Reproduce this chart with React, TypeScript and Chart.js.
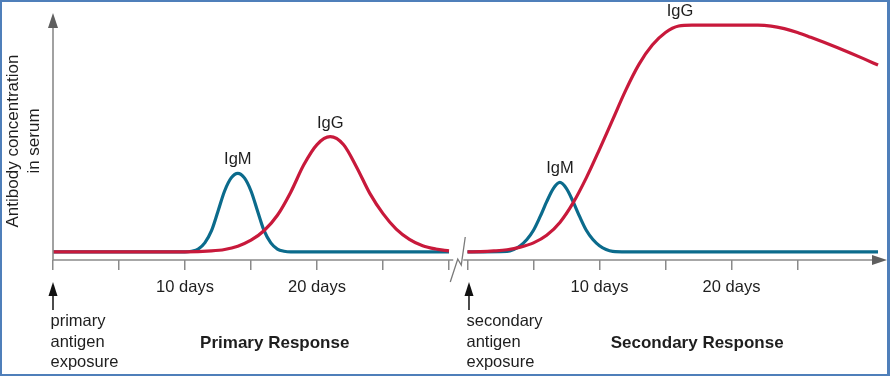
import React, { useEffect, useRef } from 'react';
import { Chart, registerables } from 'chart.js';

Chart.register(...registerables);

const FONT = '"Liberation Sans", Arial, Helvetica, sans-serif';
const BLUE = '#0b6b8c';
const RED = '#c8193b';
const AXIS = '#8a8a8a';
const ARROW = '#5f5f5f';
const FRAME = '#4f7fba';
const TEXT = '#1e1e1e';

// x axis: days since exposure; the secondary response starts after a break
const SECONDARY_OFFSET = 31.4;
const X_MAX = 63.18;

// Primary response (days since primary antigen exposure)
const primaryIgMDays = [0, 10, 10.5, 11, 11.5, 12, 12.5, 13, 13.5, 14, 14.5, 15, 15.5, 16, 16.5, 17, 17.5, 18, 30];
const primaryIgMValues = [3.4, 3.4, 3.7, 4.6, 7.2, 12.2, 20.5, 29, 34.5, 36.4, 34.5, 29, 20.5, 12.2, 7.2, 4.6, 3.7, 3.4, 3.4];

const primaryIgGDays = [0, 10, 12, 13, 14, 15, 16, 17, 18, 19, 20, 21, 22, 23, 24, 25, 26, 27, 28, 29, 30];
const primaryIgGValues = [3.4, 3.4, 3.8, 4.4, 5.8, 8.3, 12.4, 18.8, 28.4, 40, 48.5, 51.8, 48.5, 39, 28, 19.5, 13, 8.7, 6, 4.6, 3.8];

// Secondary response (days since secondary antigen exposure)
const secondaryIgMDays = [0, 3, 3.5, 4, 4.5, 5, 5.5, 6, 6.5, 7, 7.5, 8, 8.5, 9, 9.5, 10, 10.5, 11, 12, 31.1];
const secondaryIgMValues = [3.4, 3.6, 4.4, 6.0, 8.6, 12.5, 18.2, 24.5, 30, 32.6, 30, 24.5, 18.2, 12.5, 8.6, 6.0, 4.4, 3.6, 3.4, 3.4];

const secondaryIgGDays = [0, 1, 2, 3, 4, 5, 6, 7, 8, 9, 10, 11, 12, 13, 14, 15, 16, 17, 22, 23, 24, 25, 26, 27, 28, 29, 30, 31.1];
const secondaryIgGValues = [3.4, 3.5, 3.8, 4.3, 5.4, 7.2, 10.4, 15.8, 24, 34.5, 46.5, 59, 71.5, 82.3, 90.3, 95.6, 98.3, 98.7, 98.7, 98.3, 97.2, 95.6, 93.6, 91.5, 89.3, 87, 84.6, 81.9];

// Tick marks and labels
const primaryTickDays = [0, 5, 10, 15, 20, 25, 30];
const primaryTickLabels = ['', '', '10 days', '', '20 days', '', ''];
const secondaryTickDays = [0, 5, 10, 15, 20, 25];
const secondaryTickLabels = ['', '', '10 days', '', '20 days', ''];

// Curve labels (text, section, day, value)
const curveLabelTexts = ['IgM', 'IgG', 'IgM', 'IgG'];
const curveLabelSections = [0, 0, 1, 1];
const curveLabelDays = [14, 21, 7, 16.1];
const curveLabelValues = [36.4, 51.8, 32.6, 98.7];

const exposureLabels = [
  ['primary', 'antigen', 'exposure'],
  ['secondary', 'antigen', 'exposure'],
];
const responseTitles = ['Primary Response', 'Secondary Response'];
const responseTitleDays = [16.8, 17.4];

const yTitle = ['Antibody concentration', 'in serum'];

const sectionStart = (s: number) => (s === 0 ? 0 : SECONDARY_OFFSET);

const toPoints = (days: number[], values: number[], section: number) =>
  days.map((d, i) => ({ x: d + sectionStart(section), y: values[i] }));

const tickPositions = [
  ...primaryTickDays.map((d) => d),
  ...secondaryTickDays.map((d) => d + SECONDARY_OFFSET),
];
const tickLabels = [...primaryTickLabels, ...secondaryTickLabels];

const decorPlugin = {
  id: 'decor',
  afterDraw(chart: any) {
    const { ctx, chartArea, scales } = chart;
    const xs = scales.x;
    const ys = scales.y;
    const px = (u: number) => xs.getPixelForValue(u);
    const py = (v: number) => ys.getPixelForValue(v);
    const axisY = chartArea.bottom;
    const x0 = px(0);

    ctx.save();

    // frame
    ctx.fillStyle = FRAME;
    ctx.fillRect(0, 0, chart.width, 2);
    ctx.fillRect(0, chart.height - 2, chart.width, 2);
    ctx.fillRect(0, 0, 2, chart.height);
    ctx.fillRect(chart.width - 3, 0, 3, chart.height);

    // y axis
    const yTip = chartArea.top - 9;
    ctx.strokeStyle = AXIS;
    ctx.lineWidth = 1.6;
    ctx.beginPath();
    ctx.moveTo(x0, axisY);
    ctx.lineTo(x0, yTip + 14);
    ctx.stroke();
    ctx.fillStyle = ARROW;
    ctx.beginPath();
    ctx.moveTo(x0, yTip);
    ctx.lineTo(x0 - 5, yTip + 15);
    ctx.lineTo(x0 + 5, yTip + 15);
    ctx.closePath();
    ctx.fill();

    // x axis with break
    const bx = px((30 + SECONDARY_OFFSET) / 2);
    const xTip = chartArea.right;
    ctx.beginPath();
    ctx.moveTo(x0, axisY);
    ctx.lineTo(bx - 5, axisY);
    ctx.moveTo(bx + 5, axisY);
    ctx.lineTo(xTip - 14, axisY);
    ctx.stroke();
    ctx.beginPath();
    ctx.moveTo(xTip, axisY);
    ctx.lineTo(xTip - 15, axisY - 5);
    ctx.lineTo(xTip - 15, axisY + 5);
    ctx.closePath();
    ctx.fill();

    // break zigzag
    ctx.strokeStyle = '#7a7a7a';
    ctx.lineWidth = 1.3;
    ctx.beginPath();
    ctx.moveTo(bx - 8, axisY + 22);
    ctx.lineTo(bx - 0.5, axisY - 1);
    ctx.lineTo(bx + 3, axisY + 5);
    ctx.lineTo(bx + 7, axisY - 23);
    ctx.stroke();

    // curve labels
    ctx.fillStyle = TEXT;
    ctx.font = `16.5px ${FONT}`;
    ctx.textAlign = 'center';
    ctx.textBaseline = 'alphabetic';
    curveLabelTexts.forEach((t, i) => {
      const cx = px(curveLabelDays[i] + sectionStart(curveLabelSections[i]));
      const cy = py(curveLabelValues[i]) - 9;
      ctx.fillText(t, cx, cy);
    });

    // exposure arrows and texts
    exposureLabels.forEach((lines, s) => {
      const ax = px(sectionStart(s)) + (s === 0 ? 0 : 1.5);
      ctx.fillStyle = '#111';
      ctx.strokeStyle = '#111';
      ctx.lineWidth = 1.5;
      ctx.beginPath();
      ctx.moveTo(ax, axisY + 35);
      ctx.lineTo(ax, axisY + 50);
      ctx.stroke();
      ctx.beginPath();
      ctx.moveTo(ax, axisY + 22);
      ctx.lineTo(ax - 4.5, axisY + 36);
      ctx.lineTo(ax + 4.5, axisY + 36);
      ctx.closePath();
      ctx.fill();

      ctx.fillStyle = TEXT;
      ctx.font = `16.5px ${FONT}`;
      ctx.textAlign = 'left';
      ctx.textBaseline = 'alphabetic';
      lines.forEach((ln, i) => {
        ctx.fillText(ln, ax - 2.5, axisY + 66 + i * 20.5);
      });
    });

    // response titles
    ctx.font = `bold 17px ${FONT}`;
    ctx.textAlign = 'center';
    responseTitles.forEach((t, s) => {
      ctx.fillText(t, px(responseTitleDays[s] + sectionStart(s)), axisY + 88);
    });

    ctx.restore();
  },
};

export default function App() {
  const ref = useRef<HTMLCanvasElement | null>(null);

  useEffect(() => {
    if (!ref.current) return;
    const line = (data: any[], color: string) => ({
      data,
      borderColor: color,
      backgroundColor: color,
      borderWidth: 3.2,
      pointRadius: 0,
      fill: false,
      cubicInterpolationMode: 'monotone' as const,
    });
    const chart = new Chart(ref.current, {
      type: 'line',
      data: {
        datasets: [
          line(toPoints(primaryIgGDays, primaryIgGValues, 0), RED),
          line(toPoints(secondaryIgGDays, secondaryIgGValues, 1), RED),
          line(toPoints(primaryIgMDays, primaryIgMValues, 0), BLUE),
          line(toPoints(secondaryIgMDays, secondaryIgMValues, 1), BLUE),
        ],
      },
      options: {
        responsive: false,
        animation: false,
        devicePixelRatio: 1,
        layout: { padding: { left: 0, right: 3, top: 22, bottom: 76 } },
        plugins: { legend: { display: false }, tooltip: { enabled: false } },
        scales: {
          x: {
            type: 'linear',
            min: 0,
            max: X_MAX,
            clip: false,
            afterBuildTicks: (scale: any) => {
              scale.ticks = tickPositions.map((v) => ({ value: v }));
            },
            afterFit: (scale: any) => {
              scale.height = 40;
            },
            grid: {
              drawOnChartArea: false,
              drawTicks: true,
              tickLength: 10,
              color: AXIS,
              lineWidth: 1.5,
            },
            border: { display: false },
            ticks: {
              autoSkip: false,
              maxRotation: 0,
              minRotation: 0,
              padding: 8,
              color: TEXT,
              font: { family: FONT, size: 16.5 },
              callback: (_v: any, i: number) => tickLabels[i] ?? '',
            },
          },
          y: {
            type: 'linear',
            min: 0,
            max: 100,
            afterFit: (scale: any) => {
              scale.width = 53;
            },
            ticks: { display: false },
            grid: { display: false },
            border: { display: false },
            title: {
              display: true,
              text: yTitle,
              color: TEXT,
              font: { family: FONT, size: 17, lineHeight: 1.25 },
              padding: { top: 2.4, bottom: 0 },
            },
          },
        },
      },
      plugins: [decorPlugin],
    } as any);
    return () => chart.destroy();
  }, []);

  return (
    <div style={{ position: 'fixed', left: 0, top: 0, width: 890, height: 376, background: '#fff' }}>
      <canvas ref={ref} width={890} height={376} style={{ display: 'block', width: 890, height: 376 }} />
    </div>
  );
}
